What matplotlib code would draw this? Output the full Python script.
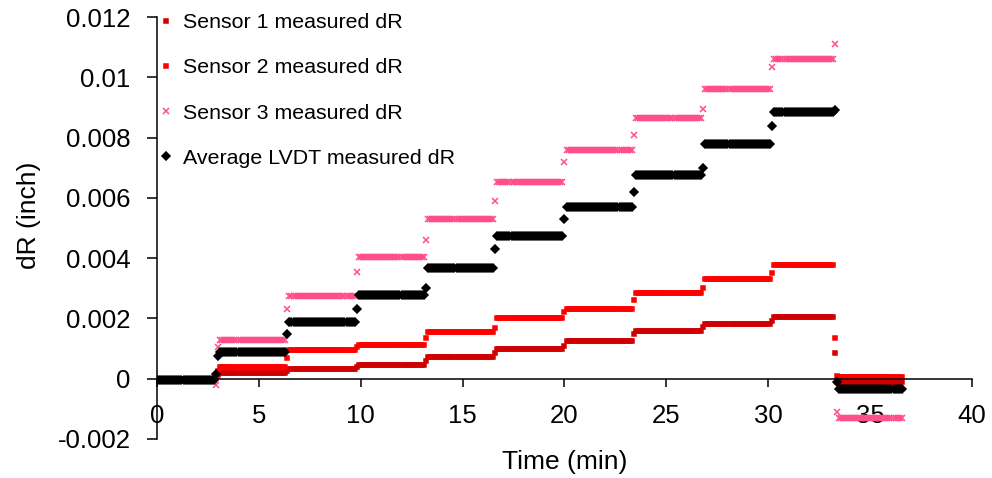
import numpy as np
import matplotlib.pyplot as plt

plt.rcParams['font.family'] = ['Liberation Sans', 'DejaVu Sans']

# plateau windows (min)
plateau_start = [0.0, 3.1, 6.5, 9.9, 13.3, 16.7, 20.1, 23.5, 26.9, 30.3, 33.45]
plateau_end = [2.8, 6.3, 9.7, 13.1, 16.5, 19.9, 23.3, 26.7, 30.1, 33.2, 36.6]

# plateau levels (inch)
sensor1_level = [0.0, 0.00018, 0.00032, 0.00047, 0.00072, 0.00098, 0.00125, 0.00158, 0.0018, 0.00205, -0.00012]
sensor2_level = [0.0, 0.00038, 0.00095, 0.00113, 0.00155, 0.0020, 0.0023, 0.00284, 0.0033, 0.00376, 0.00006]
sensor3_level = [-0.00003, 0.00128, 0.00274, 0.00403, 0.0053, 0.00652, 0.00758, 0.00865, 0.0096, 0.0106, -0.0013]
lvdt_level = [-0.00003, 0.0009, 0.00188, 0.00277, 0.00368, 0.00475, 0.0057, 0.00675, 0.0078, 0.00884, -0.00035]

# single readings taken while the load was changing
trans_t = [2.9, 3.0, 6.4, 9.8, 13.2, 16.6, 20.0, 23.4, 26.8, 30.2, 33.3, 33.38]
sensor1_trans = [0.00005, 0.00012, 0.00026, 0.0004, 0.0006, 0.00085, 0.0011, 0.0015, 0.0017, 0.0019, 0.00085, -0.0001]
sensor2_trans = [0.0001, 0.00025, 0.0007, 0.00105, 0.00135, 0.00168, 0.0022, 0.0026, 0.003, 0.0035, 0.00134, 0.0001]
sensor3_trans = [-0.0002, 0.00105, 0.0023, 0.00353, 0.0046, 0.0059, 0.0072, 0.0081, 0.00894, 0.01034, 0.0111, -0.0011]
lvdt_trans = [0.00015, 0.00075, 0.00147, 0.0023, 0.003, 0.0043, 0.0053, 0.0062, 0.007, 0.0084, 0.0089, -0.0001]

dt = 0.1  # logging interval, min


def build(levels, trans):
    t, v = [], []
    for a, b, lev in zip(plateau_start, plateau_end, levels):
        tt = np.arange(a, b + 0.01, dt)
        t.extend(tt)
        v.extend([lev] * len(tt))
    t.extend(trans_t)
    v.extend(trans)
    return np.array(t), np.array(v)


fig = plt.figure(figsize=(9.92, 4.78), dpi=100)
ax = fig.add_axes([0.1583, 0.0816, 0.8215, 0.8828])

series = [
    (sensor1_level, sensor1_trans, 's', 3.1, '#D10000', 'Sensor 1 measured dR'),
    (sensor2_level, sensor2_trans, 's', 3.1, '#FF0000', 'Sensor 2 measured dR'),
    (sensor3_level, sensor3_trans, 'x', 3.8, '#FF4F8B', 'Sensor 3 measured dR'),
    (lvdt_level, lvdt_trans, 'D', 4.0, 'black', 'Average LVDT measured dR'),
]
for levels, trans, mk, ms, col, lab in series:
    t, v = build(levels, trans)
    ax.plot(t, v, linestyle='none', marker=mk, ms=ms, mew=1.1, color=col, label=lab)

ax.set_xlim(0, 40)
ax.set_ylim(-0.002, 0.012)
ax.set_xticks(np.arange(0, 41, 5))
ax.set_yticks(np.arange(-0.002, 0.0121, 0.002))
ax.set_yticklabels(['-0.002', '0', '0.002', '0.004', '0.006', '0.008', '0.01', '0.012'])

ax.spines['top'].set_visible(False)
ax.spines['right'].set_visible(False)
ax.spines['bottom'].set_position(('data', 0))
for s in ('left', 'bottom'):
    ax.spines[s].set_linewidth(1.1)
ax.tick_params(axis='x', direction='out', length=6, width=1.1, pad=12, labelsize=18.5)
ax.tick_params(axis='y', direction='out', length=7, width=1.1, pad=12, labelsize=18.5)

ax.set_xlabel('Time (min)', fontsize=19)
ax.xaxis.set_label_coords(0.5, -0.025)
ax.set_ylabel('dR (inch)', fontsize=19)
ax.yaxis.set_label_coords(-0.142, 0.53)

ax.legend(loc='upper left', bbox_to_anchor=(0.161, 0.972), bbox_transform=fig.transFigure,
          frameon=False, fontsize=15.4, handlelength=0.6, handletextpad=0.5,
          labelspacing=1.22, borderpad=0, borderaxespad=0)

fig.savefig('out.png', dpi=100)
